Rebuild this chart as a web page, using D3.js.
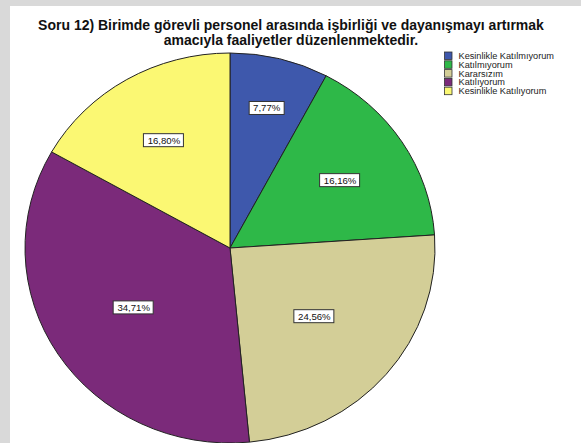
<!DOCTYPE html>
<html><head><meta charset="utf-8">
<script src="https://cdn.jsdelivr.net/npm/d3@7"></script>
<style>html,body{margin:0;padding:0;background:#d9d9d9;overflow:hidden}svg{display:block}</style>
</head><body>
<script>
const titleLines = ["Soru 12) Birimde görevli personel arasında işbirliği ve dayanışmayı artırmak", "amacıyla faaliyetler düzenlenmektedir."];
const categories = ["Kesinlikle Katılmıyorum", "Katılmıyorum", "Kararsızım", "Katılıyorum", "Kesinlikle Katılıyorum"];
const legendLabels = ["Kesinlikle Katılmıyorum", "Katılmıyorum", "Kararsızım", "Katılıyorum", "Kesinlikle Katılıyorum"];
const values = [7.77, 16.16, 24.56, 34.71, 16.80];
const valueLabels = ["7,77%", "16,16%", "24,56%", "34,71%", "16,80%"];
const colors = ["#3e58ac", "#2eb848", "#d3ce97", "#7b2a7a", "#fbf873"];
const labelRadius = [0.74, 0.64, 0.54, 0.56, 0.64];

const W = 581, H = 443;
const svg = d3.select("body").append("svg").attr("width", W).attr("height", H);
svg.append("rect").attr("x", 10).attr("y", 6).attr("width", W - 10).attr("height", H - 6).attr("fill", "#fff");

const font = "'Liberation Sans', Arial, sans-serif";
svg.append("g").selectAll("text").data(titleLines).join("text")
  .attr("x", 291).attr("y", (d, i) => 30 + i * 14.5)
  .attr("text-anchor", "middle").attr("font-family", font).attr("font-weight", "bold")
  .attr("font-size", 14).attr("fill", "#111").text(d => d);

const cx = 230, cy = 248, rx = 205, ry = 195, R = 200;
const pie = d3.pie().sort(null).value(d => d)(values);
const arc = d3.arc().innerRadius(0).outerRadius(R);
const g = svg.append("g").attr("transform", `translate(${cx},${cy})`);
g.append("g").attr("transform", `scale(${rx / R},${ry / R})`)
  .selectAll("path").data(pie).join("path")
  .attr("d", arc).attr("fill", (d, i) => colors[i])
  .attr("stroke", "#222").attr("stroke-width", 1).attr("vector-effect", "non-scaling-stroke");

const lab = g.append("g").selectAll("g").data(pie).join("g")
  .attr("transform", (d, i) => {
    const a = (d.startAngle + d.endAngle) / 2;
    const x = Math.sin(a) * rx * labelRadius[i];
    const y = -Math.cos(a) * ry * labelRadius[i];
    return `translate(${x},${y})`;
  });
lab.append("text").attr("text-anchor", "middle").attr("dy", "0.35em")
  .attr("font-family", font).attr("font-size", 9.6).attr("fill", "#111")
  .text((d, i) => valueLabels[i]);
lab.each(function () {
  const t = d3.select(this).select("text");
  const b = t.node().getBBox();
  d3.select(this).insert("rect", "text")
    .attr("x", -Math.round(b.width / 2) - 3.5).attr("y", -6.5)
    .attr("width", Math.round(b.width) + 7).attr("height", 13)
    .attr("fill", "#fff").attr("stroke", "#333").attr("stroke-width", 1);
});

const leg = svg.append("g").selectAll("g").data(legendLabels).join("g")
  .attr("transform", (d, i) => `translate(444,${51.5 + i * 8.8})`);
leg.append("rect").attr("x", 0.5).attr("y", 0.5).attr("width", 7.5).attr("height", 7.5)
  .attr("fill", (d, i) => colors[i]).attr("stroke", "#333").attr("stroke-width", 0.8);
leg.append("text").attr("x", 14.5).attr("y", 7.5)
  .attr("font-family", font).attr("font-size", 9.2).attr("fill", "#222").text(d => d);
</script>
</body></html>
